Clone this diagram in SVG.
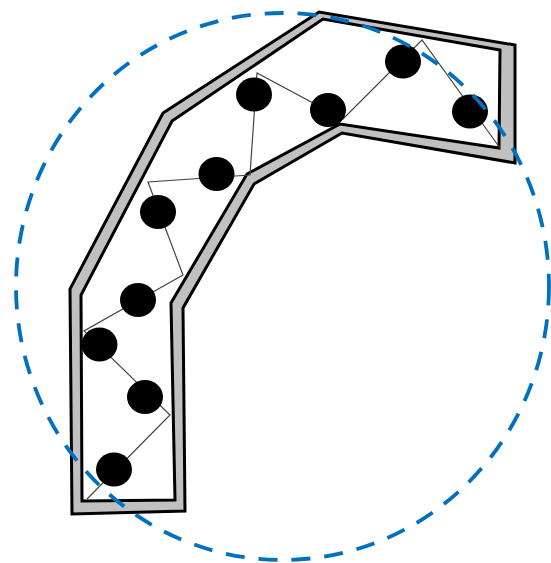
<svg xmlns="http://www.w3.org/2000/svg" width="551" height="563" viewBox="0 0 551 563">
<style>
.wall{stroke:#000;stroke-width:3;stroke-linejoin:miter}
.dot{fill:#000}
.chain{fill:none;stroke:#444;stroke-width:1.2;stroke-linejoin:miter}
.circle{fill:none;stroke:#0070C0;stroke-width:3.8;stroke-dasharray:19 14}
</style>
<rect width="551" height="563" fill="#fff"/>
<g id="channel">
<polygon class="wall" fill="#c0c0c0" points="72,514 70,289 163,113 319,12 515,45 515,163 342,133 254,184 183,308 185,511"/>
<polygon class="wall" fill="#fff" points="82,501 81,295 172,121 323,19 500,50 499,148 340,124 247,174 171,303 175,500"/>
</g>
<g id="connectors">
<polyline class="chain" points="87,499 170,415 84,331 183,275 148,182 250,175 257,73 343,119 422,40 500,148"/>
</g>
<g id="dots">
<ellipse id="d1" class="dot" cx="114" cy="469.5" rx="18" ry="17"/>
<ellipse id="d2" class="dot" cx="145" cy="397" rx="18" ry="17"/>
<ellipse id="d3" class="dot" cx="99.5" cy="344.5" rx="18" ry="17"/>
<ellipse id="d4" class="dot" cx="138" cy="300" rx="18" ry="17"/>
<ellipse id="d5" class="dot" cx="158" cy="212" rx="18" ry="17"/>
<ellipse id="d6" class="dot" cx="216.5" cy="174" rx="18" ry="17"/>
<ellipse id="d7" class="dot" cx="254" cy="94.5" rx="18" ry="17"/>
<ellipse id="d8" class="dot" cx="328" cy="110" rx="18" ry="17"/>
<ellipse id="d9" class="dot" cx="403" cy="61.5" rx="18" ry="17"/>
<ellipse id="d10" class="dot" cx="470" cy="111.5" rx="18" ry="17"/>
</g>
<g id="boundary">
<ellipse class="circle" cx="282.5" cy="286.5" rx="266.5" ry="273.5"/>
</g>
</svg>
